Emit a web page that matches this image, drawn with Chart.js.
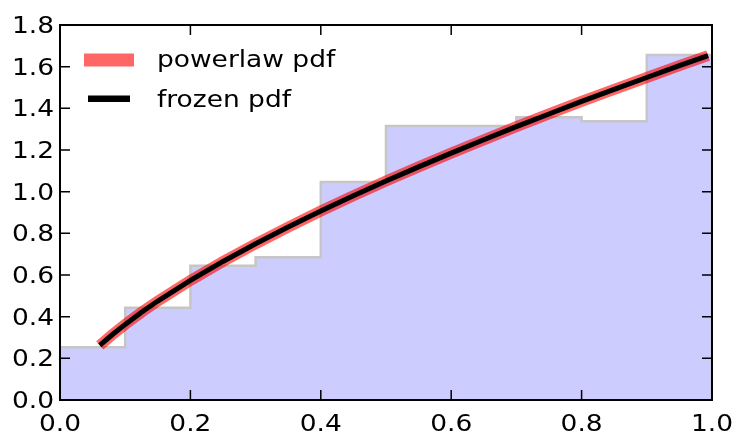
<!DOCTYPE html>
<html>
<head>
<meta charset="utf-8">
<script src="https://cdn.jsdelivr.net/npm/chart.js@4.4.0/dist/chart.umd.min.js"></script>
<style>
  html, body { margin: 0; padding: 0; background: #fff; }
  #wrap { width: 738px; height: 434px; }
</style>
</head>
<body>
<div id="wrap"><canvas id="powerlaw-chart" width="738" height="434"></canvas></div>
<script>
// histogram of samples (density)
const binEdges = [0.0, 0.1, 0.2, 0.3, 0.4, 0.5, 0.6, 0.7, 0.8, 0.9, 1.0];
const histHeights = [0.253, 0.443, 0.645, 0.685, 1.047, 1.315, 1.315, 1.357, 1.338, 1.656];

// pdf curve
const curveX = [0.061, 0.08, 0.1, 0.125, 0.15, 0.2, 0.25, 0.3, 0.35, 0.4, 0.45, 0.5,
                0.55, 0.6, 0.65, 0.7, 0.75, 0.8, 0.85, 0.9, 0.95, 0.994];
const curveY = [0.262, 0.313, 0.363, 0.421, 0.475, 0.574, 0.665, 0.750, 0.830, 0.907, 0.980, 1.051,
                1.119, 1.185, 1.249, 1.312, 1.373, 1.433, 1.491, 1.548, 1.605, 1.653];

const xTicks = [0.0, 0.2, 0.4, 0.6, 0.8, 1.0];
const xTickLabels = ['0.0', '0.2', '0.4', '0.6', '0.8', '1.0'];
const yTicks = [0.0, 0.2, 0.4, 0.6, 0.8, 1.0, 1.2, 1.4, 1.6, 1.8];
const yTickLabels = ['0.0', '0.2', '0.4', '0.6', '0.8', '1.0', '1.2', '1.4', '1.6', '1.8'];

const legendNames = ['powerlaw pdf', 'frozen pdf'];

const FONT = '23px "DejaVu Sans"';
const STRETCH = 1.15;   // reference text is a bit wide
const RED = 'rgba(255, 0, 0, 0.6)';

function histPoints() {
    const pts = [{x: binEdges[0], y: 0}];
    histHeights.forEach((h, i) => pts.push({x: binEdges[i], y: h}));
    const last = binEdges[binEdges.length - 1];
    pts.push({x: last, y: histHeights[histHeights.length - 1]});
    pts.push({x: last, y: 0});
    return pts;
}

const curvePoints = curveX.map((x, i) => ({x: x, y: curveY[i]}));

function wideText(ctx, text, x, y, align) {
    ctx.save();
    ctx.translate(x, y);
    ctx.scale(STRETCH, 1);
    ctx.textAlign = align;
    ctx.textBaseline = 'alphabetic';
    ctx.fillText(text, 0, 0);
    ctx.restore();
}

const mplAxes = {
    id: 'mplAxes',
    afterDatasetsDraw(chart) {
        const {ctx, chartArea: a, scales: {x, y}} = chart;
        const tickLen = 10;
        ctx.save();
        ctx.strokeStyle = '#000';
        ctx.lineWidth = 1.5;
        ctx.beginPath();
        xTicks.forEach(v => {
            const px = x.getPixelForValue(v);
            ctx.moveTo(px, a.bottom); ctx.lineTo(px, a.bottom - tickLen);
            ctx.moveTo(px, a.top); ctx.lineTo(px, a.top + tickLen);
        });
        yTicks.forEach(v => {
            const py = y.getPixelForValue(v);
            ctx.moveTo(a.left, py); ctx.lineTo(a.left + tickLen, py);
            ctx.moveTo(a.right, py); ctx.lineTo(a.right - tickLen, py);
        });
        ctx.stroke();

        ctx.lineWidth = 2;
        ctx.strokeRect(a.left, a.top, a.right - a.left, a.bottom - a.top);

        ctx.fillStyle = '#000';
        ctx.font = FONT;
        xTicks.forEach((v, i) => {
            wideText(ctx, xTickLabels[i], x.getPixelForValue(v), a.bottom + 31, 'center');
        });
        yTicks.forEach((v, i) => {
            wideText(ctx, yTickLabels[i], a.left - 6, y.getPixelForValue(v) + 8, 'right');
        });

        // legend, top left inside the axes
        ctx.lineCap = 'butt';
        ctx.strokeStyle = RED;
        ctx.lineWidth = 13;
        ctx.beginPath(); ctx.moveTo(84, 60); ctx.lineTo(134, 60); ctx.stroke();
        ctx.strokeStyle = '#000';
        ctx.lineWidth = 6.5;
        ctx.beginPath(); ctx.moveTo(88, 98.7); ctx.lineTo(130, 98.7); ctx.stroke();
        wideText(ctx, legendNames[0], 157, 67, 'left');
        wideText(ctx, legendNames[1], 157, 106.5, 'left');
        ctx.restore();
    }
};

new Chart(document.getElementById('powerlaw-chart'), {
    type: 'line',
    data: {
        datasets: [
            {
                label: legendNames[1],
                data: curvePoints,
                borderColor: '#000',
                borderWidth: 5,
                pointRadius: 0,
                fill: false,
                order: 0
            },
            {
                label: legendNames[0],
                data: curvePoints,
                borderColor: RED,
                borderWidth: 11,
                pointRadius: 0,
                fill: false,
                order: 1
            },
            {
                label: 'hist',
                data: histPoints(),
                stepped: 'before',
                borderColor: '#c6c6c6',
                borderWidth: 2.5,
                backgroundColor: '#ccccff',
                fill: 'origin',
                pointRadius: 0,
                order: 2
            }
        ]
    },
    options: {
        responsive: false,
        animation: false,
        devicePixelRatio: 1,
        layout: {
            padding: {top: 25, right: 26, left: 0, bottom: 0}
        },
        plugins: {
            legend: {display: false},
            tooltip: {enabled: false},
            title: {display: false}
        },
        scales: {
            x: {
                type: 'linear',
                min: 0,
                max: 1,
                ticks: {display: false},
                grid: {display: false},
                border: {display: false},
                afterFit(scale) { scale.height = 34; }
            },
            y: {
                min: 0,
                max: 1.8,
                ticks: {display: false},
                grid: {display: false},
                border: {display: false},
                afterFit(scale) { scale.width = 60; }
            }
        }
    },
    plugins: [mplAxes]
});
</script>
</body>
</html>
